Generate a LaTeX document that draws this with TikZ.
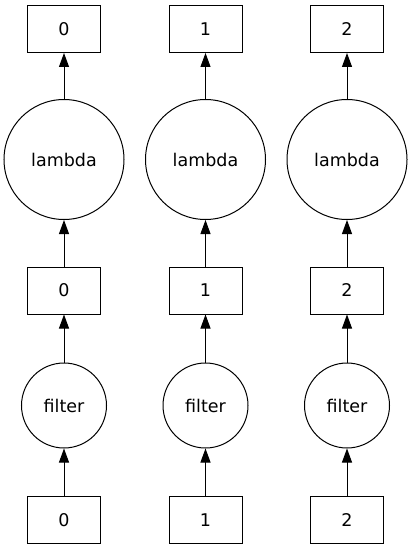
\documentclass[tikz,border=0pt]{standalone}
\usepackage{fontspec}
\setmainfont{DejaVu Sans}
\usetikzlibrary{arrows.meta}
\begin{document}
\begin{tikzpicture}[x=1bp,y=-1bp,
  every node/.style={font=\fontsize{17.5bp}{20bp}\selectfont, line width=1bp, inner sep=0pt},
  boxnode/.style={draw, rectangle, minimum width=73bp, minimum height=47bp},
  bignode/.style={draw, circle, minimum size=120bp},
  smallnode/.style={draw, circle, minimum size=85bp},
  edge/.style={line width=1bp, -{Triangle[length=14bp,width=10bp]}}]
\useasboundingbox (0,0) rectangle (411,549);
\foreach \i/\x in {0/64,1/205.5,2/347}{
  \node[boxnode] (t\i) at (\x,29) {\i};
  \node[bignode] (l\i) at (\x,159.5) {lambda};
  \node[boxnode] (m\i) at (\x,290.5) {\i};
  \node[smallnode] (f\i) at (\x,405.5) {filter};
  \node[boxnode] (b\i) at (\x,520) {\i};
  \draw[edge] (l\i) -- (t\i);
  \draw[edge] (m\i) -- (l\i);
  \draw[edge] (f\i) -- (m\i);
  \draw[edge] (b\i) -- (f\i);
}
\end{tikzpicture}
\end{document}
